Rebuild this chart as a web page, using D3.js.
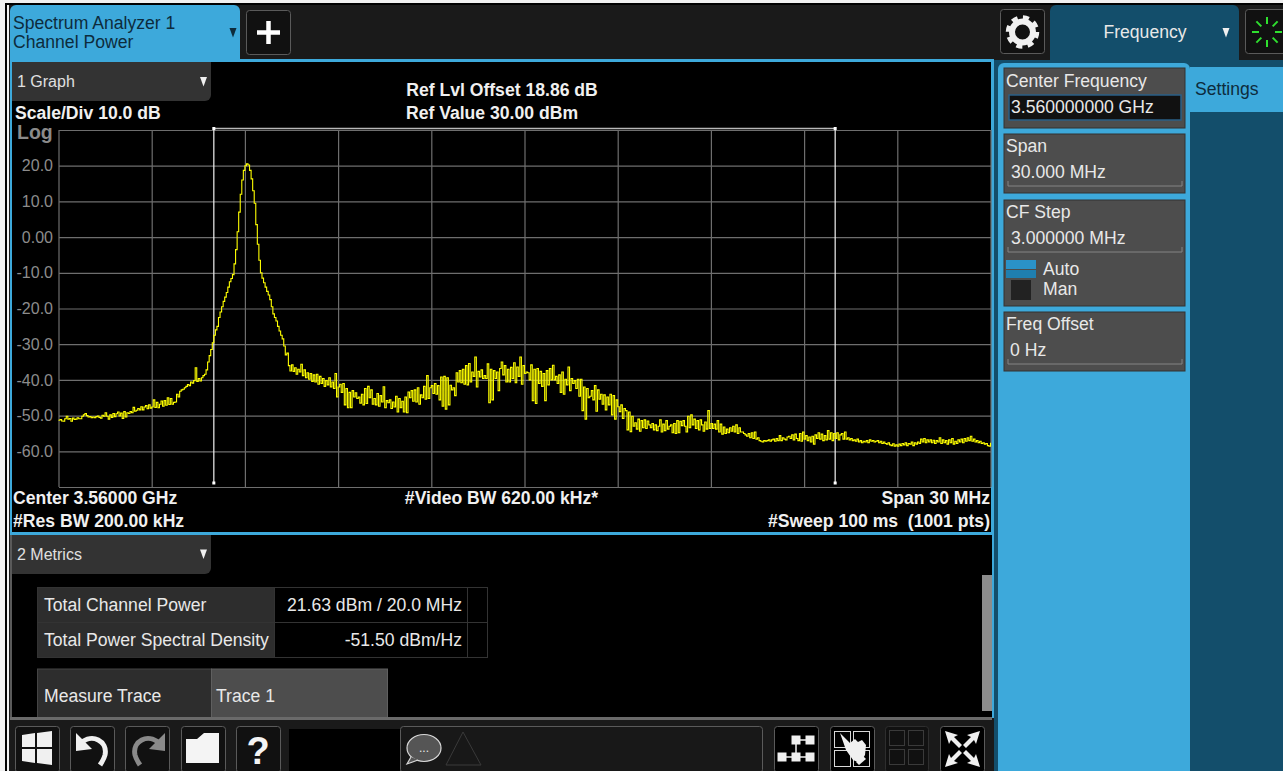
<!DOCTYPE html>
<html>
<head>
<meta charset="utf-8">
<script src="https://cdn.jsdelivr.net/npm/d3@7"></script>
<style>
  html, body { margin: 0; padding: 0; background: #f0f0f0; overflow: hidden; }
  text { font-family: "Liberation Sans", Arial, sans-serif; white-space: pre; }
</style>
</head>
<body>
<div id="chart"></div>
<script>
// y axis labels of the analyzer, dBm
const levelTicks = [20, 10, 0, -10, -20, -30, -40, -50, -60];
const levelLabels = ["20.0", "10.0", "0.00", "-10.0", "-20.0", "-30.0", "-40.0", "-50.0", "-60.0"];
// MHz from center, one grid line per division
const freqDivs = [-15, -12, -9, -6, -3, 0, 3, 6, 9, 12, 15];
// channel integration bandwidth edges, MHz from center
const channelEdges = [-10, 10];
const sweepStartMHz = -15;
const sweepStepMHz = 0.05;

// trace 1, dBm, every 0.05 MHz
const traceDbm = [
  -51.3,-51.1,-51.5,-51.6,-50.9,-50.2,-51.0,-50.8,-51.6,-50.7,-51.1,-51.0,-50.6,-50.9,-50.9,-50.2,-49.8,-49.4,-50.0,-50.4,
  -50.3,-50.6,-50.4,-50.6,-50.3,-50.1,-50.5,-50.7,-49.9,-50.2,-49.2,-50.2,-51.0,-49.8,-50.5,-49.4,-50.3,-49.5,-49.0,-50.1,
  -49.3,-50.8,-48.9,-50.4,-49.2,-49.4,-48.9,-49.2,-47.7,-48.8,-48.5,-48.0,-48.4,-47.5,-48.4,-47.6,-47.2,-48.1,-47.0,-47.9,
  -47.6,-45.6,-47.7,-46.3,-47.8,-46.8,-45.9,-47.4,-45.8,-47.1,-45.0,-46.9,-45.2,-46.8,-46.3,-46.2,-44.0,-44.8,-43.2,-42.8,
  -42.6,-42.2,-41.8,-41.3,-41.6,-40.6,-40.9,-40.2,-36.6,-40.4,-39.6,-40.3,-39.4,-38.8,-38.4,-37.2,-35.0,-33.2,-31.5,-29.6,
  -27.5,-26.0,-25.0,-22.5,-21.0,-19.5,-18.0,-16.8,-15.5,-14.0,-12.5,-11.6,-10.5,-7.5,-3.5,1.5,7.0,12.0,16.0,18.7,
  20.0,20.5,20.2,18.7,16.3,13.0,9.5,3.5,-2.0,-6.5,-10.0,-11.5,-12.8,-14.0,-15.2,-16.2,-17.5,-19.5,-21.5,-22.5,
  -23.5,-25.0,-26.3,-27.5,-28.5,-30.5,-33.0,-32.5,-36.0,-37.5,-35.8,-37.6,-36.6,-38.4,-37.0,-37.8,-35.6,-38.8,-37.2,-39.4,
  -38.0,-39.8,-38.2,-40.4,-38.6,-40.6,-38.4,-41.2,-39.0,-41.0,-39.6,-41.8,-40.2,-41.4,-39.4,-42.0,-40.6,-42.4,-38.2,-44.8,
  -42.0,-41.2,-43.5,-41.0,-47.0,-42.4,-47.8,-43.5,-47.8,-43.0,-44.8,-43.6,-45.2,-44.8,-46.5,-44.0,-47.0,-42.4,-46.6,-41.8,
  -45.0,-42.8,-46.8,-45.2,-47.0,-43.8,-47.4,-44.4,-46.2,-41.9,-47.8,-45.8,-46.4,-45.6,-48.0,-46.2,-47.6,-44.6,-49.0,-45.2,
  -47.8,-46.0,-49.0,-44.8,-49.2,-43.4,-45.0,-43.0,-46.0,-42.8,-46.2,-42.2,-46.8,-44.2,-45.0,-41.8,-45.4,-38.8,-45.2,-42.2,
  -41.6,-43.8,-41.0,-44.0,-41.6,-45.6,-39.2,-47.4,-39.0,-48.2,-39.4,-47.0,-41.5,-42.8,-42.2,-44.4,-38.0,-40.6,-37.4,-40.8,
  -37.0,-41.2,-36.0,-41.4,-35.4,-40.6,-37.8,-39.0,-33.6,-42.0,-37.6,-39.2,-37.2,-39.6,-38.8,-39.6,-35.5,-46.4,-37.0,-45.6,
  -37.4,-39.6,-37.8,-43.0,-36.8,-35.0,-38.6,-36.0,-40.6,-37.0,-40.6,-36.5,-39.6,-35.2,-40.8,-36.4,-39.0,-33.6,-41.2,-36.0,
  -38.2,-37.8,-38.0,-40.0,-35.8,-45.8,-37.0,-46.6,-36.8,-41.0,-37.6,-41.8,-38.2,-45.8,-37.4,-41.4,-36.8,-40.0,-35.9,-40.0,
  -39.0,-41.0,-38.6,-43.5,-37.8,-44.0,-39.8,-41.4,-36.4,-43.0,-39.6,-41.0,-40.2,-42.4,-39.8,-44.6,-39.8,-48.6,-42.0,-51.0,
  -42.4,-45.0,-44.6,-43.0,-45.6,-41.6,-48.8,-42.8,-45.4,-44.0,-46.8,-44.2,-48.4,-44.8,-47.0,-44.0,-49.8,-44.4,-51.0,-45.6,
  -47.5,-48.9,-47.0,-50.8,-48.0,-48.6,-54.0,-49.0,-54.5,-50.2,-53.0,-52.0,-53.8,-51.0,-54.4,-51.4,-53.4,-51.2,-53.6,-51.5,
  -52.6,-53.4,-52.2,-54.0,-52.6,-54.2,-53.0,-51.2,-54.6,-52.4,-54.2,-51.4,-53.8,-53.0,-52.6,-54.8,-52.2,-55.0,-51.4,-54.8,
  -51.6,-52.8,-51.4,-53.0,-54.6,-50.2,-53.4,-49.8,-52.6,-51.0,-53.6,-51.4,-54.0,-51.2,-52.6,-54.4,-51.8,-53.8,-48.6,-53.6,
  -52.2,-53.6,-52.4,-53.8,-51.4,-54.6,-52.4,-55.2,-53.2,-55.0,-53.8,-54.8,-53.4,-54.4,-53.0,-54.6,-52.6,-55.0,-53.4,-54.6,
  -54.6,-55.0,-55.4,-55.8,-55.0,-56.2,-54.8,-56.4,-54.6,-56.6,-56.2,-57.0,-57.2,-57.4,-57.0,-57.2,-57.0,-56.8,-57.2,-56.8,
  -56.6,-57.2,-56.4,-57.0,-55.6,-57.0,-56.2,-56.6,-56.8,-56.0,-55.8,-56.4,-55.4,-56.8,-55.2,-56.4,-57.0,-55.0,-57.2,-54.6,
  -56.6,-55.6,-57.0,-56.0,-57.4,-55.8,-58.0,-55.4,-56.4,-54.8,-56.6,-55.2,-57.0,-55.6,-56.8,-54.2,-56.6,-54.8,-57.0,-55.0,
  -56.4,-54.8,-56.8,-55.4,-55.0,-56.6,-54.6,-56.6,-56.2,-56.8,-56.4,-57.0,-56.8,-57.2,-56.6,-57.4,-57.0,-57.6,-57.2,-57.4,
  -57.0,-57.6,-56.8,-57.2,-57.0,-57.4,-57.2,-57.0,-57.6,-57.2,-57.8,-57.4,-57.8,-58.0,-57.6,-58.2,-58.4,-57.9,-58.6,-58.2,
  -58.6,-58.0,-58.4,-57.8,-58.2,-57.6,-58.4,-57.8,-58.0,-57.4,-58.4,-57.6,-58.0,-57.4,-57.8,-56.6,-57.4,-56.4,-57.6,-56.8,
  -57.4,-56.8,-57.6,-56.9,-57.8,-57.0,-57.4,-56.2,-57.8,-56.8,-57.6,-57.0,-58.0,-56.8,-57.6,-56.4,-58.0,-57.2,-57.8,-56.8,
  -57.4,-56.6,-57.6,-56.4,-57.2,-56.2,-57.0,-55.8,-57.2,-56.6,-57.4,-57.0,-57.6,-57.2,-57.8,-57.6,-58.0,-57.8,-58.4,-58.6,
  -57.6
];

const BLUE = "#3da9db", TEAL = "#134e6b", BAR = "#1a1a1a", BTN = "#111", EDGE = "#5a5a5a";
const UI = 17.6; // size of nearly all the analyzer text

const svg = d3.select("#chart").append("svg")
  .attr("width", 1283).attr("height", 771).style("display", "block");

function box(x, y, w, h, fill, opts) {
  opts = opts || {};
  return svg.append("rect").attr("x", x).attr("y", y).attr("width", w).attr("height", h)
    .attr("rx", opts.rx || 0).attr("fill", fill)
    .attr("stroke", opts.stroke || "none").attr("stroke-width", opts.sw || 1);
}
function label(x, y, str, size, fill, opts) {
  opts = opts || {};
  return svg.append("text").attr("x", x).attr("y", y).text(str)
    .attr("font-size", size).attr("fill", fill)
    .attr("font-weight", opts.bold ? "bold" : "normal")
    .attr("text-anchor", opts.anchor || "start");
}
function shape(d, fill, stroke, sw) {
  return svg.append("path").attr("d", d).attr("fill", fill || "none")
    .attr("stroke", stroke || "none").attr("stroke-width", sw || 1);
}
function arrowDown(cx, top, color) {
  shape(`M${cx - 3.5},${top}H${cx + 3.5}L${cx},${top + 9.5}Z`, color);
}

// page frame
box(0, 0, 1283, 771, "#f0f0f0");
box(5, 3, 1278, 768, "#000");
box(7, 5, 2, 766, "#f0f0f0");
box(9, 5, 1274, 766, BAR);

// top tabs
shape("M10,60V11a6,6 0 0 1 6,-6H234a6,6 0 0 1 6,6V60Z", BLUE);
label(13, 29, "Spectrum Analyzer 1", UI, "#0d2c3d");
label(13, 48, "Channel Power", UI, "#0d2c3d");
arrowDown(233, 28, "#0d2c3d");
box(246.5, 10.5, 44, 44, BTN, {rx: 3, stroke: EDGE});
shape("M268.5,21V44M257,32.5H280", "none", "#fff", 4.5);

// gear button
box(1000.5, 9.5, 44, 44, BTN, {rx: 3, stroke: EDGE});
svg.append("circle").attr("cx", 1022.5).attr("cy", 32).attr("r", 10.5).attr("fill", "none")
  .attr("stroke", "#f0f0f0").attr("stroke-width", 6);
svg.append("circle").attr("cx", 1022.5).attr("cy", 32).attr("r", 14.5).attr("fill", "none")
  .attr("stroke", "#f0f0f0").attr("stroke-width", 4.5).attr("stroke-dasharray", "6 5.39");

// frequency tab
shape("M1050,60V11a6,6 0 0 1 6,-6H1233a6,6 0 0 1 6,6V60Z", TEAL);
label(1145, 38, "Frequency", UI, "#e8e8e8", {anchor: "middle"});
arrowDown(1226, 28, "#f0f0f0");

// busy spinner
box(1245.5, 9.5, 44, 44, BTN, {rx: 3, stroke: EDGE});
d3.range(8).forEach(k => {
  const a = k * Math.PI / 4;
  shape(`M${1267 + 8 * Math.sin(a)},${32 - 8 * Math.cos(a)}L${1267 + 15 * Math.sin(a)},${32 - 15 * Math.cos(a)}`,
    "none", "#2fe02f", 2);
});

// graph window
box(10, 59, 984, 477, BLUE);
box(12, 62, 979, 470, "#000");
shape("M12,62H211V95a6,6 0 0 1 -6,6H12Z", "#333");
label(17, 87, "1 Graph", 16, "#e0e0e0");
arrowDown(203.5, 77, "#f0f0f0");

label(15, 119, "Scale/Div 10.0 dB", UI, "#f0f0f0", {bold: true});
label(17, 139, "Log", 19.5, "#8a8a8a", {bold: true});
label(502, 96, "Ref Lvl Offset 18.86 dB", UI, "#f0f0f0", {bold: true, anchor: "middle"});
label(492, 119, "Ref Value 30.00 dBm", UI, "#f0f0f0", {bold: true, anchor: "middle"});

// plot area: 10 dB/div from +30 down to -70 dBm, 30 MHz span
const x = d3.scaleLinear().domain([-15, 15]).range([58.5, 990.5]);
const y = d3.scaleLinear().domain([30, -70]).range([130, 487]);

const yAxis = svg.append("g").attr("transform", "translate(59,0)")
  .call(d3.axisLeft(y).tickValues([30].concat(levelTicks, [-70])).tickSize(-932)
    .tickFormat(d => { const k = levelTicks.indexOf(d); return k < 0 ? "" : levelLabels[k]; }));
yAxis.select(".domain").remove();
yAxis.selectAll("line").attr("stroke", "#6e6e6e").attr("stroke-width", 1.2);
yAxis.selectAll("text").attr("x", -6).attr("fill", "#8c8c8c").attr("font-size", 16)
  .attr("font-family", "Liberation Sans");

const xAxis = svg.append("g").attr("transform", "translate(0,130)")
  .call(d3.axisBottom(x).tickValues(freqDivs).tickSize(357).tickFormat(""));
xAxis.select(".domain").remove();
xAxis.selectAll("line").attr("stroke", "#6e6e6e").attr("stroke-width", 1.2);

// channel bandwidth bracket
const bracketY = 128.5;
svg.append("g").selectAll("line").data(channelEdges).join("line")
  .attr("x1", d => x(d)).attr("x2", d => x(d))
  .attr("y1", bracketY).attr("y2", 483)
  .attr("stroke", "#f4f4f4").attr("stroke-width", 1.2);
svg.append("line").attr("x1", x(channelEdges[0])).attr("x2", x(channelEdges[1]))
  .attr("y1", bracketY).attr("y2", bracketY).attr("stroke", "#b8b8b8").attr("stroke-width", 1.5);
svg.append("g").selectAll("rect").data(channelEdges.concat(channelEdges)).join("rect")
  .attr("x", d => x(d) - 1.5).attr("y", (d, i) => i < 2 ? bracketY - 1.5 : 481.5)
  .attr("width", 3).attr("height", 3).attr("fill", "#fff");

// trace
const traceLine = d3.line()
  .x((d, i) => x(sweepStartMHz + i * sweepStepMHz))
  .y(d => y(d))
  .curve(d3.curveStepAfter);
svg.append("path").datum(traceDbm).attr("d", traceLine)
  .attr("fill", "none").attr("stroke", "#ffff00").attr("stroke-width", 1.1);

// annotations under the plot
label(13, 504, "Center 3.56000 GHz", UI, "#f0f0f0", {bold: true});
label(13, 527, "#Res BW 200.00 kHz", UI, "#f0f0f0", {bold: true});
label(501.5, 504, "#Video BW 620.00 kHz*", UI, "#f0f0f0", {bold: true, anchor: "middle"});
label(990, 504, "Span 30 MHz", UI, "#f0f0f0", {bold: true, anchor: "end"});
label(990, 527, "#Sweep 100 ms  (1001 pts)", UI, "#f0f0f0", {bold: true, anchor: "end"});

// metrics window
box(12, 535, 982, 183, "#000");
box(10, 535, 2, 185, "#5a5a5a");
shape("M12,535H211V568a6,6 0 0 1 -6,6H12Z", "#333");
label(17, 560, "2 Metrics", 16, "#e0e0e0");
arrowDown(203.5, 549.5, "#f0f0f0");

const rowLine = "#333";
box(37.5, 587.5, 237, 35, "#2d2d2d", {stroke: rowLine});
box(37.5, 622.5, 237, 35, "#2d2d2d", {stroke: rowLine});
box(274.5, 587.5, 193, 35, "#000", {stroke: rowLine});
box(274.5, 622.5, 193, 35, "#000", {stroke: rowLine});
box(467.5, 587.5, 20, 35, "#000", {stroke: rowLine});
box(467.5, 622.5, 20, 35, "#000", {stroke: rowLine});
label(44, 611, "Total Channel Power", UI, "#e8e8e8");
label(44, 646, "Total Power Spectral Density", UI, "#e8e8e8");
label(462, 611, "21.63 dBm / 20.0 MHz", UI, "#e8e8e8", {anchor: "end"});
label(462, 646, "-51.50 dBm/Hz", UI, "#e8e8e8", {anchor: "end"});

box(37.5, 669, 174, 49, "#2d2d2d", {stroke: "#444"});
box(211.5, 669, 176, 49, "#4d4d4d", {stroke: "#5f5f5f"});
label(44, 702, "Measure Trace", UI, "#e8e8e8");
label(216, 702, "Trace 1", UI, "#e8e8e8");

box(982, 575, 10, 136, "#8c8c8c");
box(992, 535, 2, 183, BLUE);

// bottom toolbar
box(9, 718, 985, 53, BAR);
box(10, 717, 982, 3, "#6a6a6a");
[15, 70, 125, 181, 236].forEach(bx => box(bx + 0.5, 726.5, 44, 46, BTN, {rx: 3, stroke: EDGE}));
shape("M22,735L35,733V747H22ZM37,733L52,731V747H37ZM22,749H35V763L22,761ZM37,749H52V765L37,763Z", "#f0f0f0");
shape("M81,743C92,733 108,741 105,755C104,759 102,762 100,765", "none", "#f0f0f0", 5);
shape("M76,733V751L92,749Z", "#f0f0f0");
shape("M159,743C148,733 132,741 135,755C136,759 138,762 140,765", "none", "#8a8a8a", 5);
shape("M165,733V751L149,749Z", "#8a8a8a");
shape("M186,739H197L204,733H219V763H186Z", "#f4f4f4");
label(258, 764, "?", 38, "#f4f4f4", {bold: true, anchor: "middle"});
box(289, 729, 111, 42, "#000");
box(400.5, 726.5, 362, 46, "#181818", {rx: 3, stroke: EDGE});
svg.append("ellipse").attr("cx", 424).attr("cy", 748).attr("rx", 17).attr("ry", 13.5)
  .attr("fill", "#555").attr("stroke", "#d8d8d8").attr("stroke-width", 1.2);
shape("M411,757L407,764L418,760", "#555", "#d8d8d8", 1.2);
label(424, 752, "...", 12, "#e8e8e8", {anchor: "middle"});
shape("M463,732L446,765H481Z", "none", "#3a3a3a", 1);

[774, 830].forEach(bx => box(bx + 0.5, 726.5, 44, 46, "#000", {rx: 3, stroke: EDGE}));
box(885.5, 726.5, 43, 46, "#111", {rx: 3, stroke: "#2e2e2e"});
box(940.5, 726.5, 44, 46, "#000", {rx: 3, stroke: EDGE});
// network icon
shape("M796,740H810M796,740V757M778,757H812", "none", "#f0f0f0", 1.5);
[[796, 740], [810, 740], [782, 757], [796, 757], [810, 757]].forEach(p =>
  box(p[0] - 4.5, p[1] - 4.5, 9, 9, "#f0f0f0"));
// panel select with hand
[[834, 731], [853, 731], [834, 750], [853, 750]].forEach(p =>
  box(p[0] + 0.5, p[1] + 0.5, 16, 16, "none", {stroke: "#d8d8d8"}));
shape("M840,733L850,743L855,739L858,742L862,740L866,745L865,755L860,763L853,760L846,750Z", "#f0f0f0");
shape("M856,762L863,756L866,759L859,765Z", "#f0f0f0");
[[889, 730], [908, 730], [889, 749], [908, 749]].forEach(p =>
  box(p[0] + 0.5, p[1] + 0.5, 15, 15, "none", {stroke: "#3a3a3a"}));
// full screen arrows
shape("M945,731L958,735L954,737L962,745L959,748L951,740L949,744Z", "#f0f0f0");
shape("M980,731L967,735L971,737L963,745L966,748L974,740L976,744Z", "#f0f0f0");
shape("M945,767L958,763L954,761L962,753L959,750L951,758L949,754Z", "#f0f0f0");
shape("M980,767L967,763L971,761L963,753L966,750L974,758L976,754Z", "#f0f0f0");

// right side menu
box(994, 60, 289, 711, TEAL);
shape("M998,771V69a6,6 0 0 1 6,-6H1184a6,6 0 0 1 6,6V771Z", BLUE);
box(1190, 67, 93, 45, BLUE);
label(1195, 95, "Settings", UI, "#0d2c3d");

function menuBox(top, bottom, title, titleY) {
  box(1004, top, 181, bottom - top, "#4d4d4d", {stroke: "#333"});
  label(1006, titleY, title, UI, "#e8e8e8");
}
menuBox(68, 128, "Center Frequency", 87);
box(1009, 95, 172, 25, "#111", {stroke: "#2a5f86", sw: 1.5});
label(1011, 113, "3.560000000 GHz", UI, "#e8e8e8");

function underline(yy) {
  shape(`M1008,${yy - 5}V${yy}H1182V${yy - 5}`, "none", "#858585", 1);
}
menuBox(134, 193, "Span", 152);
label(1011, 178, "30.000 MHz", UI, "#e8e8e8");
underline(186);

menuBox(200, 306, "CF Step", 218);
label(1011, 244, "3.000000 MHz", UI, "#e8e8e8");
underline(252);
box(1006, 260, 30, 9, "#2a92c8");
box(1006, 270, 30, 8, "#1f7fb0");
box(1011, 280, 20, 20, "#222");
label(1043, 275, "Auto", UI, "#e8e8e8");
label(1043, 295, "Man", UI, "#e8e8e8");

menuBox(312, 371, "Freq Offset", 330);
label(1010, 356, "0 Hz", UI, "#e8e8e8");
underline(364);
</script>
</body>
</html>
